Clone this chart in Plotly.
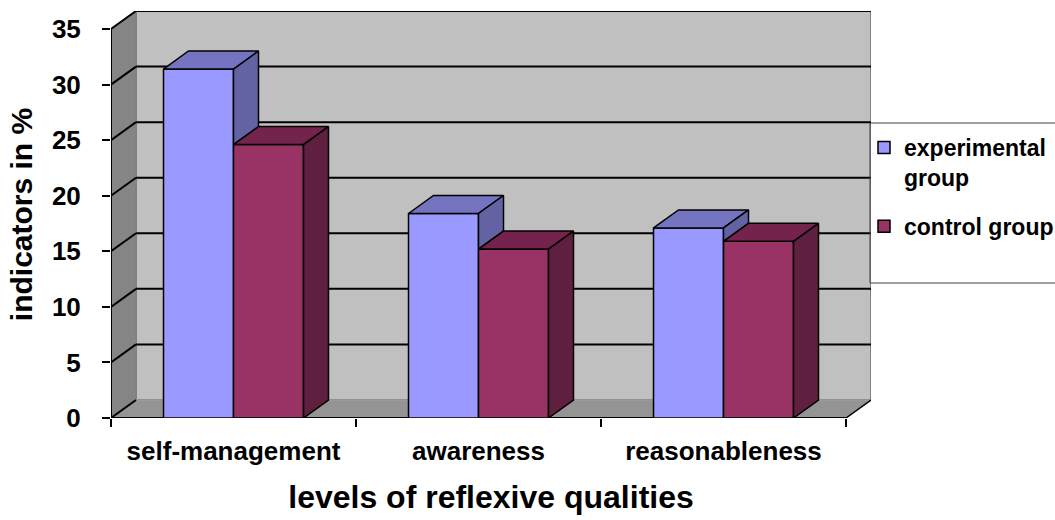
import plotly.graph_objects as go

# --- data -------------------------------------------------------------
categories = ["self-management", "awareness", "reasonableness"]
experimental = [31.4, 18.4, 17.1]
control = [24.6, 15.2, 15.9]
y_ticks = [0, 5, 10, 15, 20, 25, 30, 35]
series_names = ["experimental<br>group", "control group"]

# --- 3-D look: depth offset of the back plane, in axis units -------------
DX = 0.102          # horizontal depth shift (category units)
DY = 1.62           # vertical depth shift (value units)
BAR_W = 0.2857      # width of one column
Y_MAX = y_ticks[-1]
X_LO, X_HI = -0.5, len(categories) - 0.5

EXP_FRONT, EXP_TOP, EXP_SIDE = "#9999FF", "#7474C0", "#6363A4"
CTL_FRONT, CTL_TOP, CTL_SIDE = "#993366", "#74244C", "#5F1F3F"
EDGE = "black"

fig = go.Figure()

# walls, floor and gridlines sit underneath every trace
shapes = []


def poly(xs, ys):
    return "M " + " L ".join(f"{x},{y}" for x, y in zip(xs, ys)) + " Z"


# back wall
shapes.append(dict(type="path", xref="x", yref="y", layer="below",
                   path=poly([X_LO + DX, X_HI + DX, X_HI + DX, X_LO + DX],
                             [DY, DY, Y_MAX + DY, Y_MAX + DY]),
                   fillcolor="#C0C0C0", line=dict(color="#808080", width=2)))
# left side wall
shapes.append(dict(type="path", xref="x", yref="y", layer="below",
                   path=poly([X_LO, X_LO + DX, X_LO + DX, X_LO],
                             [0, DY, Y_MAX + DY, Y_MAX]),
                   fillcolor="#858585", line=dict(color="#808080", width=1)))
# floor
shapes.append(dict(type="path", xref="x", yref="y", layer="below",
                   path=poly([X_LO, X_HI, X_HI + DX, X_LO + DX],
                             [0, 0, DY, DY]),
                   fillcolor="#949494", line=dict(color="#A0A0A0", width=1)))
# gridlines: across the back wall and diagonally over the side wall
for v in y_ticks:
    if v > 0:
        shapes.append(dict(type="line", xref="x", yref="y", layer="below",
                           x0=X_LO + DX, x1=X_HI + DX, y0=v + DY, y1=v + DY,
                           line=dict(color=EDGE, width=2)))
    shapes.append(dict(type="line", xref="x", yref="y", layer="below",
                       x0=X_LO, x1=X_LO + DX, y0=v, y1=v + DY,
                       line=dict(color=EDGE, width=2)))
# front edges of the box: value axis, category axis, right floor edge
shapes.append(dict(type="line", xref="x", yref="y", layer="below",
                   x0=X_LO, x1=X_LO, y0=0, y1=Y_MAX,
                   line=dict(color=EDGE, width=2)))
shapes.append(dict(type="line", xref="x", yref="y", layer="below",
                   x0=X_LO, x1=X_HI, y0=0, y1=0,
                   line=dict(color=EDGE, width=2)))
shapes.append(dict(type="line", xref="x", yref="y", layer="below",
                   x0=X_HI, x1=X_HI + DX, y0=0, y1=DY,
                   line=dict(color=EDGE, width=1.5)))

# legend frame
shapes.append(dict(type="rect", xref="paper", yref="paper",
                   x0=(870 - 111) / 760, x1=1.26,
                   y0=(418 - 283) / 407, y1=(418 - 123) / 407,
                   line=dict(color="#404040", width=1), fillcolor="rgba(0,0,0,0)",
                   layer="above"))

xc = list(range(len(categories)))

# front faces of the columns
fig.add_trace(go.Bar(x=xc, y=experimental, name=series_names[0], width=BAR_W,
                     offset=-BAR_W, marker=dict(color=EXP_FRONT,
                     line=dict(color=EDGE, width=1.5)), legendgroup="e"))
fig.add_trace(go.Bar(x=xc, y=control, name=series_names[1], width=BAR_W,
                     offset=0, marker=dict(color=CTL_FRONT,
                     line=dict(color=EDGE, width=1.5)), legendgroup="c"))


def faces(lefts, tops, bottoms_side):
    """Top and right-side faces of a row of columns."""
    tx, ty, sx, sy = [], [], [], []
    for x0, v, b in zip(lefts, tops, bottoms_side):
        x1 = x0 + BAR_W
        tx += [x0, x1, x1 + DX, x0 + DX, x0, None]
        ty += [v, v, v + DY, v + DY, v, None]
        sx += [x1, x1, x1 + DX, x1 + DX, x1, None]
        sy += [b, v, v + DY, b + DY, b, None]
    return tx, ty, sx, sy


def face_trace(xs, ys, color):
    return go.Scatter(x=xs, y=ys, mode="lines", fill="toself", fillcolor=color,
                      line=dict(color=EDGE, width=1.5), showlegend=False,
                      hoverinfo="skip")


# experimental columns: side face is hidden by the neighbouring control column
exp_left = [c - BAR_W for c in xc]
hidden = [min(e, k) for e, k in zip(experimental, control)]
tx, ty, sx, sy = faces(exp_left, experimental, hidden)
fig.add_trace(face_trace(tx, ty, EXP_TOP))
fig.add_trace(face_trace(sx, sy, EXP_SIDE))

ctl_left = list(xc)
tx, ty, sx, sy = faces(ctl_left, control, [0] * len(control))
fig.add_trace(face_trace(tx, ty, CTL_TOP))
fig.add_trace(face_trace(sx, sy, CTL_SIDE))

FONT = "Liberation Sans, Arial, sans-serif"

fig.update_layout(
    width=1055, height=520,
    margin=dict(l=111, r=184, t=11, b=102, autoexpand=False),
    paper_bgcolor="white", plot_bgcolor="white",
    font=dict(family=FONT, color="black", weight="bold"),
    barmode="overlay",
    shapes=shapes,
    showlegend=True,
    legend=dict(x=(864 - 111) / 760, y=(418 - 126) / 407, xanchor="left",
                yanchor="top", bgcolor="rgba(0,0,0,0)", borderwidth=0,
                font=dict(size=23, family=FONT, weight="bold"),
                valign="top", traceorder="grouped", tracegroupgap=16),
    xaxis=dict(range=[X_LO, X_HI + DX], showgrid=False, zeroline=False,
               showline=False, tickmode="array", tickvals=xc,
               ticktext=categories, ticks="",
               tickfont=dict(size=26, family=FONT, weight="bold"),
               ticklabelstandoff=15,
               minor=dict(tickmode="array",
                          tickvals=[X_LO + i for i in range(len(categories) + 1)],
                          ticks="outside", ticklen=8, tickwidth=1.5,
                          tickcolor="black", showgrid=False),
               title=dict(text="levels of reflexive qualities", standoff=20,
                          font=dict(size=32, family=FONT, weight="bold"))),
    yaxis=dict(range=[0, Y_MAX + DY], showgrid=False, zeroline=False,
               showline=False, tickmode="array", tickvals=y_ticks,
               ticks="outside", ticklen=8, tickwidth=1.5, tickcolor="black",
               tickfont=dict(size=26, family=FONT, weight="bold"),
               ticklabelstandoff=16,
               title=dict(text="indicators in %", standoff=10,
                          font=dict(size=30, family=FONT, weight="bold"))),
)

fig.write_html("out.html")
